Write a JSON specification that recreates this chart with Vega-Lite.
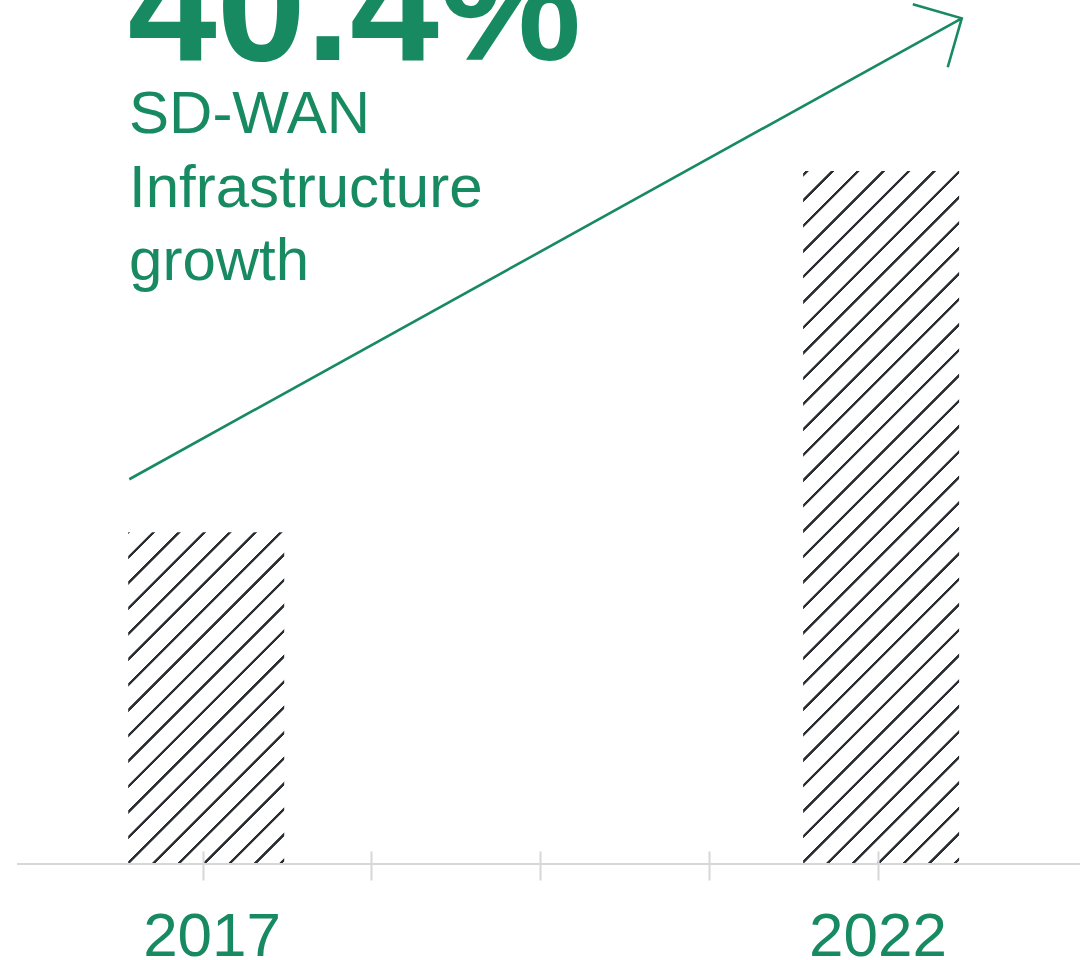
{
  "$schema": "https://vega.github.io/schema/vega-lite/v6.json",
  "autosize": "none",
  "width": 1063,
  "height": 864,
  "padding": {"left": 17, "right": 9, "top": 0, "bottom": 96},
  "background": "#ffffff",
  "config": {"view": {"stroke": null}, "font": "Liberation Sans"},
  "datasets": {
    "bars": [
      {"year": 2017, "value": 3.84},
      {"year": 2022, "value": 8.02}
    ],
    "trend": [
      {"year": 2016.457, "value": 4.453},
      {"year": 2022.624, "value": 9.788}
    ]
  },
  "encoding": {
    "x": {
      "field": "year",
      "type": "quantitative",
      "scale": {"domain": [2015.625, 2023.5], "nice": false, "zero": false, "padding": 0},
      "axis": {
        "values": [2017, 2018.25, 2019.5, 2020.75, 2022],
        "labelExpr": "datum.value == 2017 || datum.value == 2022 ? datum.value + '' : ''",
        "domain": false,
        "grid": false,
        "ticks": true,
        "tickSize": 29,
        "tickWidth": 2,
        "tickColor": "#d7d7d9",
        "offset": -13,
        "labelFont": "Liberation Sans",
        "labelFontSize": 62,
        "labelColor": "#178a62",
        "labelPadding": 75,
        "labelOffset": {"condition": {"test": "datum.value == 2017", "value": 9}, "value": 0},
        "labelBaseline": "alphabetic",
        "labelOverlap": false,
        "labelFlush": false,
        "labelBound": false,
        "title": null,
        "zindex": 1
      }
    },
    "y": {
      "field": "value",
      "type": "quantitative",
      "scale": {"domain": [0, 10], "nice": false, "padding": 0},
      "axis": null
    }
  },
  "layer": [
    {
      "data": {"name": "bars"},
      "transform": [{"filter": "datum.year == 2017"}],
      "mark": {
        "type": "bar",
        "width": 156,
        "xOffset": 3.6,
        "fill": {
          "gradient": "linear",
          "x1": 0, "y1": 0, "x2": 0.56609, "y2": 1.20404,
          "stops": [
            {"offset": 0, "color": "#2a2d31"}, {"offset": 0.0029, "color": "#2a2d31"}, {"offset": 0.0043, "color": "#ffffff"},
            {"offset": 0.0479, "color": "#ffffff"}, {"offset": 0.0493, "color": "#2a2d31"}, {"offset": 0.0550, "color": "#2a2d31"}, {"offset": 0.0565, "color": "#ffffff"},
            {"offset": 0.1000, "color": "#ffffff"}, {"offset": 0.1015, "color": "#2a2d31"}, {"offset": 0.1072, "color": "#2a2d31"}, {"offset": 0.1087, "color": "#ffffff"},
            {"offset": 0.1522, "color": "#ffffff"}, {"offset": 0.1536, "color": "#2a2d31"}, {"offset": 0.1594, "color": "#2a2d31"}, {"offset": 0.1608, "color": "#ffffff"},
            {"offset": 0.2044, "color": "#ffffff"}, {"offset": 0.2058, "color": "#2a2d31"}, {"offset": 0.2116, "color": "#2a2d31"}, {"offset": 0.2130, "color": "#ffffff"},
            {"offset": 0.2566, "color": "#ffffff"}, {"offset": 0.2580, "color": "#2a2d31"}, {"offset": 0.2637, "color": "#2a2d31"}, {"offset": 0.2652, "color": "#ffffff"},
            {"offset": 0.3087, "color": "#ffffff"}, {"offset": 0.3102, "color": "#2a2d31"}, {"offset": 0.3159, "color": "#2a2d31"}, {"offset": 0.3174, "color": "#ffffff"},
            {"offset": 0.3609, "color": "#ffffff"}, {"offset": 0.3623, "color": "#2a2d31"}, {"offset": 0.3681, "color": "#2a2d31"}, {"offset": 0.3695, "color": "#ffffff"},
            {"offset": 0.4131, "color": "#ffffff"}, {"offset": 0.4145, "color": "#2a2d31"}, {"offset": 0.4203, "color": "#2a2d31"}, {"offset": 0.4217, "color": "#ffffff"},
            {"offset": 0.4652, "color": "#ffffff"}, {"offset": 0.4667, "color": "#2a2d31"}, {"offset": 0.4724, "color": "#2a2d31"}, {"offset": 0.4739, "color": "#ffffff"},
            {"offset": 0.5174, "color": "#ffffff"}, {"offset": 0.5189, "color": "#2a2d31"}, {"offset": 0.5246, "color": "#2a2d31"}, {"offset": 0.5260, "color": "#ffffff"},
            {"offset": 0.5696, "color": "#ffffff"}, {"offset": 0.5710, "color": "#2a2d31"}, {"offset": 0.5768, "color": "#2a2d31"}, {"offset": 0.5782, "color": "#ffffff"},
            {"offset": 0.6218, "color": "#ffffff"}, {"offset": 0.6232, "color": "#2a2d31"}, {"offset": 0.6289, "color": "#2a2d31"}, {"offset": 0.6304, "color": "#ffffff"},
            {"offset": 0.6739, "color": "#ffffff"}, {"offset": 0.6754, "color": "#2a2d31"}, {"offset": 0.6811, "color": "#2a2d31"}, {"offset": 0.6826, "color": "#ffffff"},
            {"offset": 0.7261, "color": "#ffffff"}, {"offset": 0.7276, "color": "#2a2d31"}, {"offset": 0.7333, "color": "#2a2d31"}, {"offset": 0.7347, "color": "#ffffff"},
            {"offset": 0.7783, "color": "#ffffff"}, {"offset": 0.7797, "color": "#2a2d31"}, {"offset": 0.7855, "color": "#2a2d31"}, {"offset": 0.7869, "color": "#ffffff"},
            {"offset": 0.8305, "color": "#ffffff"}, {"offset": 0.8319, "color": "#2a2d31"}, {"offset": 0.8376, "color": "#2a2d31"}, {"offset": 0.8391, "color": "#ffffff"},
            {"offset": 0.8826, "color": "#ffffff"}, {"offset": 0.8841, "color": "#2a2d31"}, {"offset": 0.8898, "color": "#2a2d31"}, {"offset": 0.8913, "color": "#ffffff"},
            {"offset": 0.9348, "color": "#ffffff"}, {"offset": 0.9362, "color": "#2a2d31"}, {"offset": 0.9420, "color": "#2a2d31"}, {"offset": 0.9434, "color": "#ffffff"},
            {"offset": 0.9870, "color": "#ffffff"}, {"offset": 0.9884, "color": "#2a2d31"}, {"offset": 0.9942, "color": "#2a2d31"}, {"offset": 0.9956, "color": "#ffffff"}
          ]
        }
      }
    },
    {
      "data": {"name": "bars"},
      "transform": [{"filter": "datum.year == 2022"}],
      "mark": {
        "type": "bar",
        "width": 156,
        "xOffset": 3.6,
        "fill": {
          "gradient": "linear",
          "x1": 0, "y1": 0, "x2": 0.26252, "y2": 1.16601,
          "stops": [
            {"offset": 0.00224, "color": "#ffffff"}, {"offset": 0.00306, "color": "#2a2d31"}, {"offset": 0.00636, "color": "#2a2d31"}, {"offset": 0.00719, "color": "#ffffff"},
            {"offset": 0.03222, "color": "#ffffff"}, {"offset": 0.03304, "color": "#2a2d31"}, {"offset": 0.03634, "color": "#2a2d31"}, {"offset": 0.03717, "color": "#ffffff"},
            {"offset": 0.06220, "color": "#ffffff"}, {"offset": 0.06302, "color": "#2a2d31"}, {"offset": 0.06632, "color": "#2a2d31"}, {"offset": 0.06715, "color": "#ffffff"},
            {"offset": 0.09218, "color": "#ffffff"}, {"offset": 0.09300, "color": "#2a2d31"}, {"offset": 0.09630, "color": "#2a2d31"}, {"offset": 0.09713, "color": "#ffffff"},
            {"offset": 0.12216, "color": "#ffffff"}, {"offset": 0.12298, "color": "#2a2d31"}, {"offset": 0.12628, "color": "#2a2d31"}, {"offset": 0.12711, "color": "#ffffff"},
            {"offset": 0.15214, "color": "#ffffff"}, {"offset": 0.15296, "color": "#2a2d31"}, {"offset": 0.15626, "color": "#2a2d31"}, {"offset": 0.15709, "color": "#ffffff"},
            {"offset": 0.18212, "color": "#ffffff"}, {"offset": 0.18294, "color": "#2a2d31"}, {"offset": 0.18624, "color": "#2a2d31"}, {"offset": 0.18707, "color": "#ffffff"},
            {"offset": 0.21210, "color": "#ffffff"}, {"offset": 0.21292, "color": "#2a2d31"}, {"offset": 0.21622, "color": "#2a2d31"}, {"offset": 0.21705, "color": "#ffffff"},
            {"offset": 0.24208, "color": "#ffffff"}, {"offset": 0.24290, "color": "#2a2d31"}, {"offset": 0.24620, "color": "#2a2d31"}, {"offset": 0.24703, "color": "#ffffff"},
            {"offset": 0.27206, "color": "#ffffff"}, {"offset": 0.27288, "color": "#2a2d31"}, {"offset": 0.27618, "color": "#2a2d31"}, {"offset": 0.27701, "color": "#ffffff"},
            {"offset": 0.30204, "color": "#ffffff"}, {"offset": 0.30286, "color": "#2a2d31"}, {"offset": 0.30616, "color": "#2a2d31"}, {"offset": 0.30699, "color": "#ffffff"},
            {"offset": 0.33202, "color": "#ffffff"}, {"offset": 0.33284, "color": "#2a2d31"}, {"offset": 0.33614, "color": "#2a2d31"}, {"offset": 0.33697, "color": "#ffffff"},
            {"offset": 0.36200, "color": "#ffffff"}, {"offset": 0.36282, "color": "#2a2d31"}, {"offset": 0.36612, "color": "#2a2d31"}, {"offset": 0.36695, "color": "#ffffff"},
            {"offset": 0.39198, "color": "#ffffff"}, {"offset": 0.39280, "color": "#2a2d31"}, {"offset": 0.39610, "color": "#2a2d31"}, {"offset": 0.39693, "color": "#ffffff"},
            {"offset": 0.42196, "color": "#ffffff"}, {"offset": 0.42278, "color": "#2a2d31"}, {"offset": 0.42608, "color": "#2a2d31"}, {"offset": 0.42691, "color": "#ffffff"},
            {"offset": 0.45194, "color": "#ffffff"}, {"offset": 0.45276, "color": "#2a2d31"}, {"offset": 0.45606, "color": "#2a2d31"}, {"offset": 0.45689, "color": "#ffffff"},
            {"offset": 0.48192, "color": "#ffffff"}, {"offset": 0.48274, "color": "#2a2d31"}, {"offset": 0.48604, "color": "#2a2d31"}, {"offset": 0.48687, "color": "#ffffff"},
            {"offset": 0.51190, "color": "#ffffff"}, {"offset": 0.51272, "color": "#2a2d31"}, {"offset": 0.51602, "color": "#2a2d31"}, {"offset": 0.51685, "color": "#ffffff"},
            {"offset": 0.54188, "color": "#ffffff"}, {"offset": 0.54270, "color": "#2a2d31"}, {"offset": 0.54600, "color": "#2a2d31"}, {"offset": 0.54683, "color": "#ffffff"},
            {"offset": 0.57186, "color": "#ffffff"}, {"offset": 0.57268, "color": "#2a2d31"}, {"offset": 0.57598, "color": "#2a2d31"}, {"offset": 0.57681, "color": "#ffffff"},
            {"offset": 0.60184, "color": "#ffffff"}, {"offset": 0.60266, "color": "#2a2d31"}, {"offset": 0.60596, "color": "#2a2d31"}, {"offset": 0.60679, "color": "#ffffff"},
            {"offset": 0.63182, "color": "#ffffff"}, {"offset": 0.63264, "color": "#2a2d31"}, {"offset": 0.63594, "color": "#2a2d31"}, {"offset": 0.63677, "color": "#ffffff"},
            {"offset": 0.66180, "color": "#ffffff"}, {"offset": 0.66262, "color": "#2a2d31"}, {"offset": 0.66592, "color": "#2a2d31"}, {"offset": 0.66675, "color": "#ffffff"},
            {"offset": 0.69178, "color": "#ffffff"}, {"offset": 0.69260, "color": "#2a2d31"}, {"offset": 0.69590, "color": "#2a2d31"}, {"offset": 0.69673, "color": "#ffffff"},
            {"offset": 0.72176, "color": "#ffffff"}, {"offset": 0.72258, "color": "#2a2d31"}, {"offset": 0.72588, "color": "#2a2d31"}, {"offset": 0.72671, "color": "#ffffff"},
            {"offset": 0.75174, "color": "#ffffff"}, {"offset": 0.75256, "color": "#2a2d31"}, {"offset": 0.75586, "color": "#2a2d31"}, {"offset": 0.75669, "color": "#ffffff"},
            {"offset": 0.78172, "color": "#ffffff"}, {"offset": 0.78254, "color": "#2a2d31"}, {"offset": 0.78584, "color": "#2a2d31"}, {"offset": 0.78667, "color": "#ffffff"},
            {"offset": 0.81170, "color": "#ffffff"}, {"offset": 0.81252, "color": "#2a2d31"}, {"offset": 0.81582, "color": "#2a2d31"}, {"offset": 0.81665, "color": "#ffffff"},
            {"offset": 0.84168, "color": "#ffffff"}, {"offset": 0.84250, "color": "#2a2d31"}, {"offset": 0.84580, "color": "#2a2d31"}, {"offset": 0.84663, "color": "#ffffff"},
            {"offset": 0.87166, "color": "#ffffff"}, {"offset": 0.87248, "color": "#2a2d31"}, {"offset": 0.87578, "color": "#2a2d31"}, {"offset": 0.87661, "color": "#ffffff"},
            {"offset": 0.90164, "color": "#ffffff"}, {"offset": 0.90246, "color": "#2a2d31"}, {"offset": 0.90576, "color": "#2a2d31"}, {"offset": 0.90659, "color": "#ffffff"},
            {"offset": 0.93162, "color": "#ffffff"}, {"offset": 0.93244, "color": "#2a2d31"}, {"offset": 0.93574, "color": "#2a2d31"}, {"offset": 0.93657, "color": "#ffffff"},
            {"offset": 0.96160, "color": "#ffffff"}, {"offset": 0.96242, "color": "#2a2d31"}, {"offset": 0.96572, "color": "#2a2d31"}, {"offset": 0.96655, "color": "#ffffff"},
            {"offset": 0.99158, "color": "#ffffff"}, {"offset": 0.99240, "color": "#2a2d31"}, {"offset": 0.99570, "color": "#2a2d31"}, {"offset": 0.99653, "color": "#ffffff"}
          ]
        }
      }
    },
    {
      "data": {"name": "bars"},
      "mark": {"type": "rule", "color": "#d7d7d9", "strokeWidth": 2},
      "encoding": {"x": null, "y": {"datum": 0}}
    },
    {
      "data": {"name": "trend"},
      "mark": {"type": "line", "color": "#178a62", "strokeWidth": 2.6}
    },
    {
      "data": {"name": "trend"},
      "transform": [{"filter": "datum.year > 2020"}],
      "mark": {
        "type": "point",
        "shape": "M-1,-1L0,0L-1,1",
        "size": 5184,
        "angle": 331,
        "filled": false,
        "stroke": "#178a62",
        "strokeWidth": 2.6,
        "opacity": 1
      }
    },
    {
      "data": {"name": "bars"},
      "transform": [{"filter": "datum.year == 2017"}],
      "mark": {
        "type": "text",
        "text": "40.4%",
        "font": "Liberation Sans",
        "fontSize": 160,
        "fontWeight": "bold",
        "color": "#178a62",
        "align": "left",
        "baseline": "alphabetic"
      },
      "encoding": {"x": {"datum": 2016.445}, "y": {"datum": 9.31}}
    },
    {
      "data": {"name": "bars"},
      "transform": [{"filter": "datum.year == 2017"}],
      "mark": {
        "type": "text",
        "text": ["SD-WAN", "Infrastructure", "growth"],
        "font": "Liberation Sans",
        "fontSize": 60,
        "lineHeight": 73.5,
        "color": "#178a62",
        "align": "left",
        "baseline": "alphabetic"
      },
      "encoding": {"x": {"datum": 2016.455}, "y": {"datum": 8.457}}
    }
  ]
}
